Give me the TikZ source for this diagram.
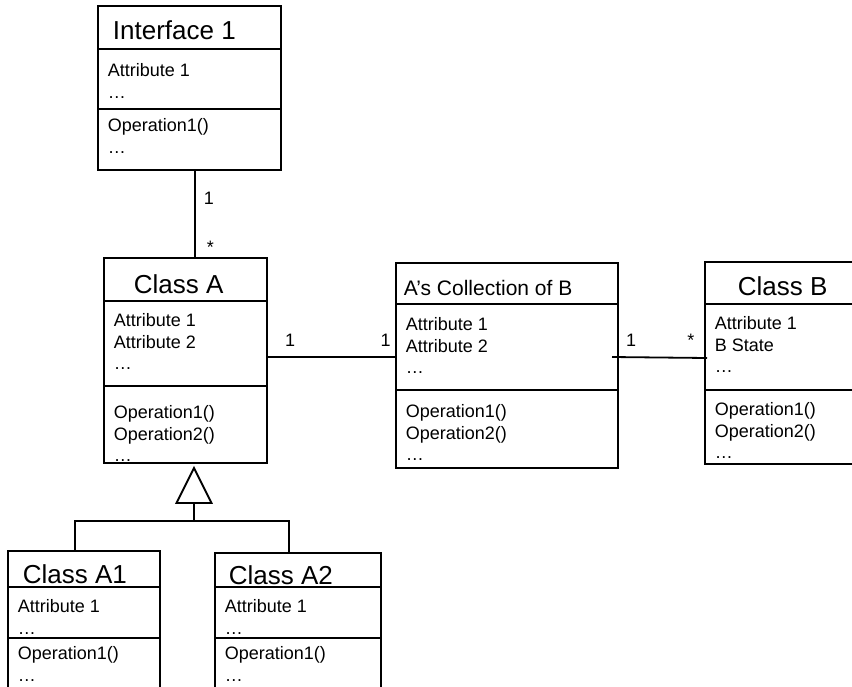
\documentclass[tikz,border=0pt]{standalone}
\usepackage{fontspec}
\setmainfont{Liberation Sans}

\begin{document}
\begin{tikzpicture}
[
x=1pt, y=-1pt,
line width=1.8pt,
classbox/.style 2 args={draw,anchor=north west,inner sep=0pt,outer sep=0pt,minimum width=#1pt,minimum height=#2pt},
title/.style={anchor=base west,inner sep=0pt,font=\fontsize{26}{30}\selectfont},
body/.style={anchor=north west,inner sep=0pt,align=left,font=\fontsize{18}{21.5}\selectfont},
mult/.style={inner sep=0pt,font=\fontsize{18}{20}\selectfont},
]
\useasboundingbox (0,0) rectangle (852,686);
\clip (0,0) rectangle (852,686);

%Place the class boxes
\node[classbox={183}{164}] (ifc) at (98,6) {};
\node[classbox={163}{205}] (ca) at (104,258) {};
\node[classbox={222}{205}] (col) at (396,263) {};
\node[classbox={154}{202}] (cb) at (705,262) {};
\node[classbox={152}{160}] (a1) at (8,551) {};
\node[classbox={166}{160}] (a2) at (215,553) {};

%Compartment lines
\foreach \cls/\ya/\yb in {ifc/43/103, ca/43/128, col/41/127, cb/42/128, a1/36/87, a2/34/85}
{
\draw ([yshift=-\ya pt]\cls.north west) -- ([yshift=-\ya pt]\cls.north east);
\draw ([yshift=-\yb pt]\cls.north west) -- ([yshift=-\yb pt]\cls.north east);
}

%Texts
\node[title] (ifc-t) at (112,39) {Interface 1};
\node[body] (ifc-a) at (107,63) {Attribute 1\\…};
\node[body] (ifc-o) at (107,118) {Operation1()\\…};

\node[title] (ca-t) at (133,293) {Class A};
\node[body] (ca-a) at (113,313) {Attribute 1\\Attribute 2\\…};
\node[body] (ca-o) at (113,405) {Operation1()\\Operation2()\\…};

\node[title,font=\fontsize{21}{24}\selectfont] (col-t) at (403,295) {A’s Collection of B};
\node[body] (col-a) at (405,317) {Attribute 1\\Attribute 2\\…};
\node[body] (col-o) at (405,404) {Operation1()\\Operation2()\\…};

\node[title] (cb-t) at (737,295) {Class B};
\node[body] (cb-a) at (714,316) {Attribute 1\\B State\\…};
\node[body] (cb-o) at (714,402) {Operation1()\\Operation2()\\…};

\node[title] (a1-t) at (22,583) {Class A1};
\node[body] (a1-a) at (17,599) {Attribute 1\\…};
\node[body] (a1-o) at (17,646) {Operation1()\\…};

\node[title] (a2-t) at (228,584) {Class A2};
\node[body] (a2-a) at (224,599) {Attribute 1\\…};
\node[body] (a2-o) at (224,646) {Operation1()\\…};

%Draw the associations
\draw ([xshift=5.5pt]ifc.south) -- ([xshift=5.5pt]ifc.south |- ca.north)
  node[mult,pos=0.32,right=8pt] (m1) {1}
  node[mult,pos=0.88,right=11pt] (m2) {*};
\draw ([yshift=3.5pt]ca.east) -- ([yshift=3.5pt]ca.east -| col.west)
  node[mult,pos=0.18,above=10pt] (m3) {1}
  node[mult,pos=0.92,above=10pt] (m4) {1};
\draw ([xshift=-6pt,yshift=8.5pt]col.east) -- ([xshift=2pt,yshift=5pt]cb.west)
  node[mult,pos=0.2,above=10pt] (m5) {1}
  node[mult,pos=0.83,above=10pt] (m6) {*};

%Generalization
\coordinate (tip) at ([xshift=8.5pt,yshift=-5pt]ca.south);
\draw (tip) -- ++(17.5,35) -- ++(-35,0) -- cycle;
\coordinate (gen) at ([yshift=-35pt]tip);
\draw (gen) -- ++(0,18) coordinate (fork);
\draw (fork) -| ([xshift=-9pt]a1.north);
\draw (fork) -| ([xshift=-9pt]a2.north);
\end{tikzpicture}
\end{document}
